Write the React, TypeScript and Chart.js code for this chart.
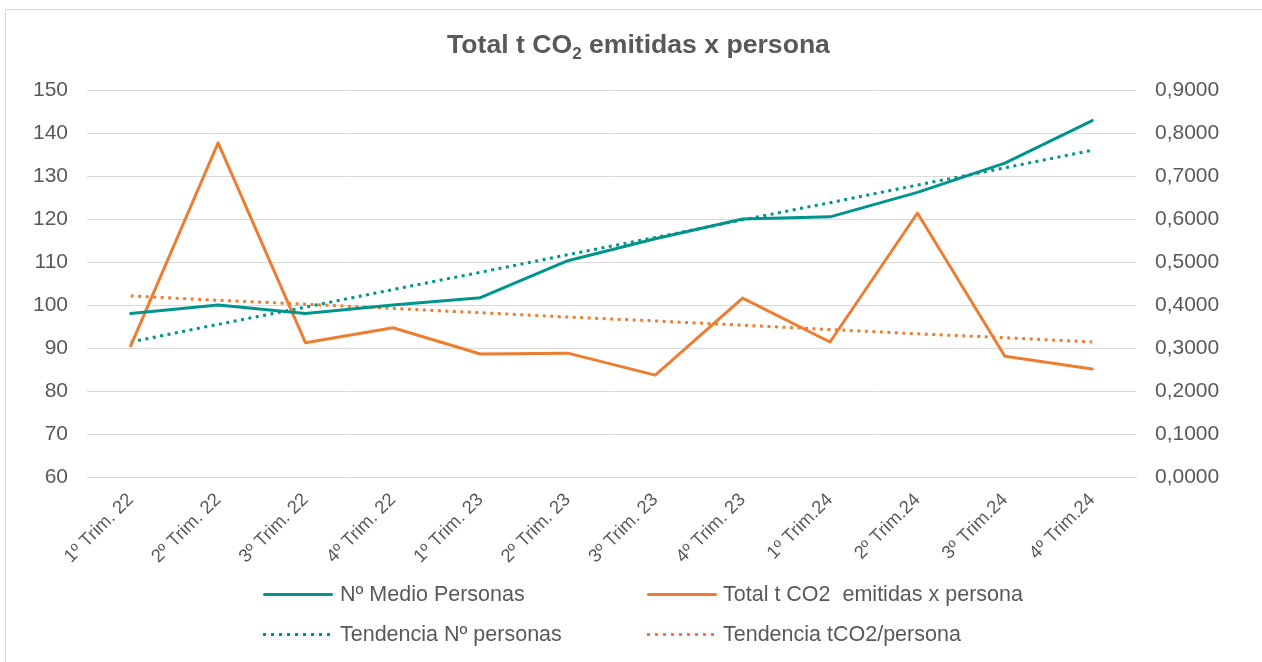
import React, { useEffect, useRef } from "react";
import { Chart, registerables } from "chart.js";

Chart.register(...registerables);

const categories = [
  "1º Trim. 22",
  "2º Trim. 22",
  "3º Trim. 22",
  "4º Trim. 22",
  "1º Trim. 23",
  "2º Trim. 23",
  "3º Trim. 23",
  "4º Trim. 23",
  "1º Trim.24",
  "2º Trim.24",
  "3º Trim.24",
  "4º Trim.24",
];

const personas = [98, 100, 98, 100, 101.7, 110.3, 115.4, 120, 120.5, 126.2, 133, 142.9];
const co2PorPersona = [0.305, 0.777, 0.312, 0.347, 0.286, 0.288, 0.237, 0.416, 0.314, 0.614, 0.281, 0.251];
const tendenciaPersonas = [91.4, 95.5, 99.5, 103.6, 107.6, 111.7, 115.7, 119.8, 123.8, 127.9, 131.9, 136.0];
const tendenciaCo2 = [0.421, 0.411, 0.402, 0.392, 0.382, 0.372, 0.363, 0.353, 0.343, 0.333, 0.324, 0.314];

const leftMin = 60;
const leftMax = 150;
const leftStep = 10;
const rightMin = 0;
const rightMax = 0.9;
const rightStep = 0.1;

const TEAL = "#00948C";
const ORANGE = "#ED7D31";
const TEXT = "#595959";
const GRID = "#D9D9D9";
const FONT = "'Liberation Sans', Arial, sans-serif";

export default function App() {
  const canvasRef = useRef<HTMLCanvasElement | null>(null);

  useEffect(() => {
    if (!canvasRef.current) return;
    const chart = new Chart(canvasRef.current, {
      type: "line",
      data: {
        labels: categories,
        datasets: [
          {
            label: "Nº Medio Personas",
            data: personas,
            yAxisID: "y",
            borderColor: TEAL,
            borderWidth: 3,
            pointRadius: 0,
            borderJoinStyle: "round",
            borderCapStyle: "round",
            tension: 0,
          },
          {
            label: "Total t CO2  emitidas x persona",
            data: co2PorPersona,
            yAxisID: "y1",
            borderColor: ORANGE,
            borderWidth: 3,
            pointRadius: 0,
            borderJoinStyle: "round",
            borderCapStyle: "round",
            tension: 0,
          },
          {
            label: "Tendencia Nº personas",
            data: tendenciaPersonas,
            yAxisID: "y",
            borderColor: TEAL,
            borderWidth: 3,
            borderDash: [3, 4.5],
            pointRadius: 0,
            tension: 0,
          },
          {
            label: "Tendencia tCO2/persona",
            data: tendenciaCo2,
            yAxisID: "y1",
            borderColor: ORANGE,
            borderWidth: 3,
            borderDash: [3, 4.5],
            pointRadius: 0,
            tension: 0,
          },
        ],
      },
      options: {
        animation: false,
        responsive: false,
        maintainAspectRatio: false,
        layout: { padding: { top: 90, left: 0, right: 0, bottom: 0 } },
        plugins: {
          legend: { display: false },
          title: { display: false },
          tooltip: { enabled: false },
        },
        scales: {
          x: {
            offset: true,
            grid: { display: false, drawTicks: false },
            border: { display: true, color: GRID, width: 1 },
            ticks: {
              color: TEXT,
              font: { family: FONT, size: 18.5 },
              maxRotation: 45,
              minRotation: 45,
              padding: 12,
              autoSkip: false,
            },
            afterFit: (scale: any) => {
              scale.height = 185;
            },
          },
          y: {
            position: "left",
            min: leftMin,
            max: leftMax,
            grid: { color: GRID, drawTicks: false, lineWidth: 1 },
            border: { display: false },
            ticks: {
              stepSize: leftStep,
              color: TEXT,
              font: { family: FONT, size: 21 },
              padding: 19,
            },
            afterFit: (scale: any) => {
              scale.width = 87;
            },
          },
          y1: {
            position: "right",
            min: rightMin,
            max: rightMax,
            grid: { display: false, drawTicks: false },
            border: { display: false },
            ticks: {
              stepSize: rightStep,
              color: TEXT,
              font: { family: FONT, size: 21 },
              padding: 19,
              callback: (v: any) => Number(v).toFixed(4).replace(".", ","),
            },
            afterFit: (scale: any) => {
              scale.width = 126;
            },
          },
        },
      },
    });
    return () => chart.destroy();
  }, []);

  const legendText: React.CSSProperties = {
    position: "absolute",
    fontFamily: FONT,
    fontSize: 21.5,
    lineHeight: "21px",
    color: TEXT,
    whiteSpace: "pre",
  };

  const swatch = (left: number, top: number, color: string, dotted: boolean) => (
    <div
      style={{
        position: "absolute",
        left,
        top,
        width: 70,
        height: 3,
        borderRadius: dotted ? 0 : 1.5,
        background: dotted
          ? `repeating-linear-gradient(to right, ${color} 0px, ${color} 3px, transparent 3px, transparent 8px)`
          : color,
      }}
    />
  );

  return (
    <div
      style={{
        position: "fixed",
        left: 0,
        top: 0,
        width: 1262,
        height: 662,
        background: "#fff",
        overflow: "hidden",
      }}
    >
      <div
        style={{
          position: "absolute",
          left: 5,
          top: 9,
          width: 1270,
          height: 670,
          border: "1px solid #D9D9D9",
          boxSizing: "border-box",
        }}
      />
      <canvas
        ref={canvasRef}
        width={1262}
        height={662}
        style={{ position: "absolute", left: 0, top: 0, width: 1262, height: 662 }}
      />
      <div
        style={{
          position: "absolute",
          left: 0,
          width: 1277,
          top: 31,
          textAlign: "center",
          fontFamily: FONT,
          fontWeight: "bold",
          fontSize: 26.6,
          lineHeight: "26px",
          color: TEXT,
          whiteSpace: "pre",
        }}
      >
        Total t CO
        <span style={{ fontSize: 17, position: "relative", top: 6 }}>2</span> emitidas x persona
      </div>
      {swatch(263, 593, TEAL, false)}
      <div style={{ ...legendText, left: 340, top: 584 }}>Nº Medio Personas</div>
      {swatch(647, 593, ORANGE, false)}
      <div style={{ ...legendText, left: 723, top: 584 }}>Total t CO2  emitidas x persona</div>
      {swatch(263, 633, TEAL, true)}
      <div style={{ ...legendText, left: 340, top: 624 }}>Tendencia Nº personas</div>
      {swatch(647, 633, ORANGE, true)}
      <div style={{ ...legendText, left: 723, top: 624 }}>Tendencia tCO2/persona</div>
    </div>
  );
}
